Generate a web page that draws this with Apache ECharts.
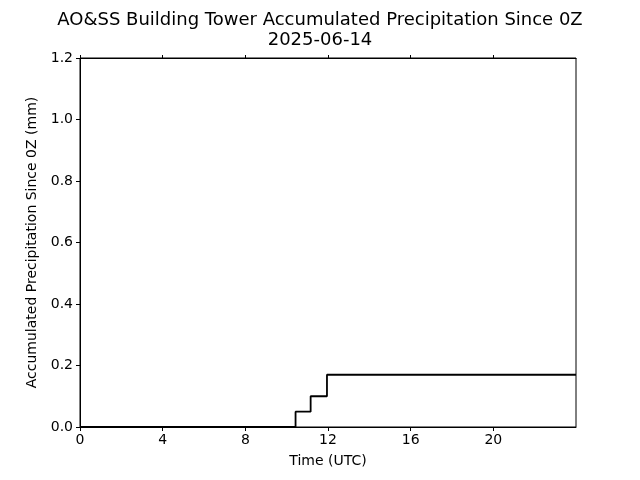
<!DOCTYPE html>
<html>
<head>
<meta charset="utf-8">
<script src="https://cdn.jsdelivr.net/npm/echarts@6/dist/echarts.min.js"></script>
<style>html,body{margin:0;padding:0;background:#fff}#c{width:640px;height:480px}</style>
</head>
<body>
<div id="c"></div>
<script>
var titleText = 'AO&SS Building Tower Accumulated Precipitation Since 0Z\n2025-06-14';
var xLabel = 'Time (UTC)';
var yLabel = 'Accumulated Precipitation Since 0Z (mm)';
var timesUTC = [0, 10.43, 11.16, 11.95, 24];
var precipMM = [0, 0.05, 0.10, 0.17, 0.17];
var xTicks = [0, 4, 8, 12, 16, 20];

var data = timesUTC.map(function (t, i) { return [t, precipMM[i]]; });
var font = 'DejaVu Sans';
var chart = echarts.init(document.getElementById('c'), null, {renderer: 'canvas'});
chart.setOption({
  animation: false,
  backgroundColor: '#fff',
  title: {
    text: titleText, left: 315, textAlign: 'center', top: 5,
    textStyle: {fontFamily: font, fontSize: 18, fontWeight: 'normal', color: '#000', lineHeight: 20}
  },
  grid: {left: 80, right: 64, top: 58, bottom: 53, show: true, borderColor: '#000', borderWidth: 1, backgroundColor: 'transparent'},
  xAxis: [{
    type: 'value', min: 0, max: 24, interval: 4,
    name: xLabel, nameLocation: 'middle', nameGap: 27,
    nameTextStyle: {fontFamily: font, fontSize: 14, color: '#000'},
    axisLine: {show: true, onZero: false, lineStyle: {color: '#000', width: 1}},
    axisTick: {show: true, length: 4, customValues: xTicks, lineStyle: {color: '#000'}},
    axisLabel: {fontFamily: font, fontSize: 14, color: '#000', margin: 6, customValues: xTicks,
      formatter: function (v) { return xTicks.indexOf(v) >= 0 ? String(v) : ''; }},
    splitLine: {show: false}
  }, {
    type: 'value', position: 'top', min: 0, max: 24, interval: 4,
    axisLine: {show: true, onZero: false, lineStyle: {color: '#000', width: 1}},
    axisTick: {show: true, length: 3, customValues: xTicks, lineStyle: {color: '#000'}},
    axisLabel: {show: false},
    splitLine: {show: false}
  }],
  yAxis: {
    type: 'value', min: 0, max: 1.2, interval: 0.2,
    name: yLabel, nameLocation: 'middle', nameGap: 39,
    nameTextStyle: {fontFamily: font, fontSize: 14, color: '#000'},
    axisLine: {show: true, onZero: false, lineStyle: {color: '#000', width: 1}},
    axisTick: {show: true, length: 4, lineStyle: {color: '#000'}},
    axisLabel: {fontFamily: font, fontSize: 14, color: '#000', margin: 7,
      formatter: function (v) { return v.toFixed(1); }},
    splitLine: {show: false}
  },
  series: [{
    type: 'line', step: 'end', data: data, xAxisIndex: 0,
    showSymbol: false, symbol: 'none',
    lineStyle: {color: '#000', width: 1.8}
  }]
});
</script>
</body>
</html>
